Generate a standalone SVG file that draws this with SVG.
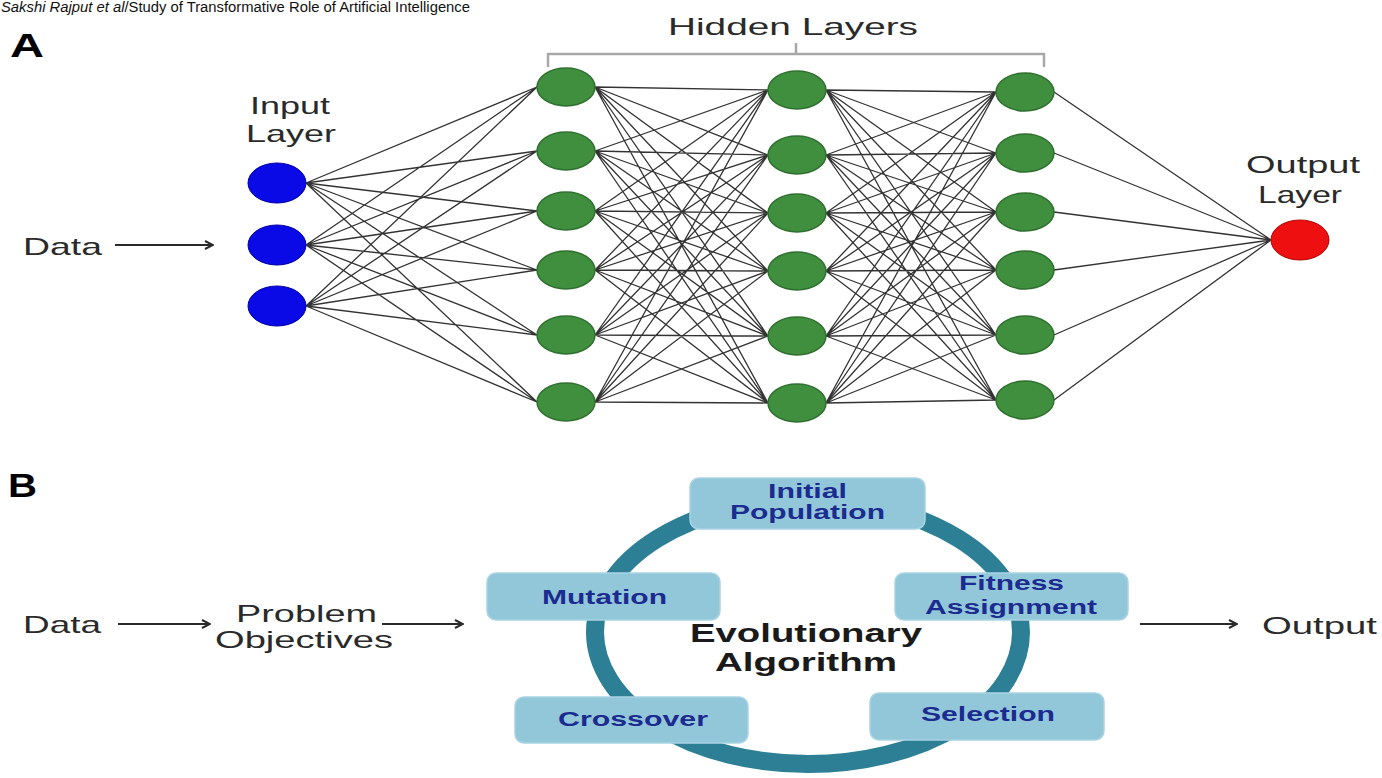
<svg xmlns="http://www.w3.org/2000/svg" width="1382" height="778" viewBox="0 0 1382 778">
<style>
.lbl{font-family:"Liberation Sans",Arial,sans-serif;fill:#2a2a2a;font-size:24px}
.hid{fill:#3f8f3f;stroke:#2f6f2f;stroke-width:1.5}
.inp{fill:#0a0ae6;stroke:#0000a0;stroke-width:1}
.out{fill:#ee1010;stroke:#b00000;stroke-width:1}
.net{fill:none;stroke:#333333;stroke-width:1.3}
.box{fill:#92c7da;stroke:#a9d4e3;stroke-width:1.5}
.bt{font-family:"Liberation Sans",Arial,sans-serif;font-weight:bold;fill:#1c2b8f;font-size:20px}
.ea{font-family:"Liberation Sans",Arial,sans-serif;font-weight:bold;fill:#1a1a1a;font-size:26px}
.arr{fill:none;stroke:#2a2a2a;stroke-width:2;marker-end:url(#ah)}
</style>
<defs>
<marker id="ah" viewBox="0 0 10 10" refX="9" refY="5" markerWidth="10" markerHeight="10" markerUnits="userSpaceOnUse" orient="auto">
<path d="M1,1 L9,5 L1,9" fill="none" stroke="#2a2a2a" stroke-width="2"/>
</marker>
</defs>
<rect width="1382" height="778" fill="#ffffff"/>
<text x="1" y="12" font-family="'Liberation Sans',Arial,sans-serif" font-size="14" fill="#111" textLength="469" lengthAdjust="spacingAndGlyphs"><tspan font-style="italic">Sakshi Rajput et al</tspan>/Study of Transformative Role of Artificial Intelligence</text>
<text x="10" y="57" font-family="'Liberation Sans',Arial,sans-serif" font-weight="bold" font-size="33" fill="#000" textLength="34" lengthAdjust="spacingAndGlyphs">A</text>
<text x="8" y="497" font-family="'Liberation Sans',Arial,sans-serif" font-weight="bold" font-size="34" fill="#000" textLength="29" lengthAdjust="spacingAndGlyphs">B</text>

<g id="connectors">
<path class="net" d="M306 183L537 87M306 183L537 151M306 183L537 211M306 183L537 270M306 183L537 335M306 183L537 402
M306 245L537 87M306 245L537 151M306 245L537 211M306 245L537 270M306 245L537 335M306 245L537 402
M306 306L537 87M306 306L537 151M306 306L537 211M306 306L537 270M306 306L537 335M306 306L537 402"/>
<path class="net" d="M595 87L768 90M595 87L768 155M595 87L768 213M595 87L768 271M595 87L768 336M595 87L768 403
M595 151L768 90M595 151L768 155M595 151L768 213M595 151L768 271M595 151L768 336M595 151L768 403
M595 211L768 90M595 211L768 155M595 211L768 213M595 211L768 271M595 211L768 336M595 211L768 403
M595 270L768 90M595 270L768 155M595 270L768 213M595 270L768 271M595 270L768 336M595 270L768 403
M595 335L768 90M595 335L768 155M595 335L768 213M595 335L768 271M595 335L768 336M595 335L768 403
M595 402L768 90M595 402L768 155M595 402L768 213M595 402L768 271M595 402L768 336M595 402L768 403"/>
<path class="net" d="M826 90L996 92M826 90L996 153M826 90L996 212M826 90L996 270M826 90L996 335M826 90L996 400
M826 155L996 92M826 155L996 153M826 155L996 212M826 155L996 270M826 155L996 335M826 155L996 400
M826 213L996 92M826 213L996 153M826 213L996 212M826 213L996 270M826 213L996 335M826 213L996 400
M826 271L996 92M826 271L996 153M826 271L996 212M826 271L996 270M826 271L996 335M826 271L996 400
M826 336L996 92M826 336L996 153M826 336L996 212M826 336L996 270M826 336L996 335M826 336L996 400
M826 403L996 92M826 403L996 153M826 403L996 212M826 403L996 270M826 403L996 335M826 403L996 400"/>
<path class="net" d="M1054 92L1271 240M1054 153L1271 240M1054 212L1271 240M1054 270L1271 240M1054 335L1271 240M1054 400L1271 240"/>
<path class="arr" d="M115 245H213"/>
<path class="arr" d="M118 624H210"/>
<path class="arr" d="M382 624H463"/>
<path class="arr" d="M1140 624H1237"/>
</g>

<g id="bracket">
<path d="M548 67V54H1044V67M796 54V43" fill="none" stroke="#a8a8a8" stroke-width="2.5"/>
<text class="lbl" x="668" y="35" font-size="28" textLength="250" lengthAdjust="spacingAndGlyphs">Hidden Layers</text>
</g>

<g id="data-a"><text class="lbl" x="23" y="255" textLength="79" lengthAdjust="spacingAndGlyphs">Data</text></g>
<g id="input-label">
<text class="lbl" x="250" y="114" textLength="80" lengthAdjust="spacingAndGlyphs">Input</text>
<text class="lbl" x="246" y="142" textLength="90" lengthAdjust="spacingAndGlyphs">Layer</text>
</g>
<g id="output-label">
<text class="lbl" x="1246" y="173" textLength="114" lengthAdjust="spacingAndGlyphs">Output</text>
<text class="lbl" x="1258" y="203" textLength="84" lengthAdjust="spacingAndGlyphs">Layer</text>
</g>

<g id="in1"><ellipse class="inp" cx="277" cy="183" rx="29" ry="20"/></g>
<g id="in2"><ellipse class="inp" cx="277" cy="245" rx="29" ry="20"/></g>
<g id="in3"><ellipse class="inp" cx="277" cy="306" rx="29" ry="20"/></g>

<g id="h1-1"><ellipse class="hid" cx="566" cy="87" rx="29" ry="19"/></g>
<g id="h1-2"><ellipse class="hid" cx="566" cy="151" rx="29" ry="19"/></g>
<g id="h1-3"><ellipse class="hid" cx="566" cy="211" rx="29" ry="19"/></g>
<g id="h1-4"><ellipse class="hid" cx="566" cy="270" rx="29" ry="19"/></g>
<g id="h1-5"><ellipse class="hid" cx="566" cy="335" rx="29" ry="19"/></g>
<g id="h1-6"><ellipse class="hid" cx="566" cy="402" rx="29" ry="19"/></g>

<g id="h2-1"><ellipse class="hid" cx="797" cy="90" rx="29" ry="19"/></g>
<g id="h2-2"><ellipse class="hid" cx="797" cy="155" rx="29" ry="19"/></g>
<g id="h2-3"><ellipse class="hid" cx="797" cy="213" rx="29" ry="19"/></g>
<g id="h2-4"><ellipse class="hid" cx="797" cy="271" rx="29" ry="19"/></g>
<g id="h2-5"><ellipse class="hid" cx="797" cy="336" rx="29" ry="19"/></g>
<g id="h2-6"><ellipse class="hid" cx="797" cy="403" rx="29" ry="19"/></g>

<g id="h3-1"><ellipse class="hid" cx="1025" cy="92" rx="29" ry="19"/></g>
<g id="h3-2"><ellipse class="hid" cx="1025" cy="153" rx="29" ry="19"/></g>
<g id="h3-3"><ellipse class="hid" cx="1025" cy="212" rx="29" ry="19"/></g>
<g id="h3-4"><ellipse class="hid" cx="1025" cy="270" rx="29" ry="19"/></g>
<g id="h3-5"><ellipse class="hid" cx="1025" cy="335" rx="29" ry="19"/></g>
<g id="h3-6"><ellipse class="hid" cx="1025" cy="400" rx="29" ry="19"/></g>

<g id="out"><ellipse class="out" cx="1300" cy="240" rx="29" ry="20"/></g>

<!-- Part B -->
<g id="ring"><ellipse cx="808" cy="632" rx="213" ry="132" fill="none" stroke="#2c7f94" stroke-width="18"/></g>
<g id="ea-label">
<text class="ea" x="690" y="642" textLength="232" lengthAdjust="spacingAndGlyphs">Evolutionary</text>
<text class="ea" x="715" y="671" textLength="182" lengthAdjust="spacingAndGlyphs">Algorithm</text>
</g>
<g id="init"><rect class="box" x="690" y="478" width="235" height="51" rx="9"/>
<text class="bt" x="768" y="498" textLength="79" lengthAdjust="spacingAndGlyphs">Initial</text>
<text class="bt" x="730" y="519" textLength="155" lengthAdjust="spacingAndGlyphs">Population</text></g>
<g id="mutation"><rect class="box" x="487" y="573" width="233" height="47" rx="9"/>
<text class="bt" x="542" y="604" textLength="125" lengthAdjust="spacingAndGlyphs">Mutation</text></g>
<g id="fitness"><rect class="box" x="895" y="573" width="233" height="47" rx="9"/>
<text class="bt" x="959" y="590" textLength="105" lengthAdjust="spacingAndGlyphs">Fitness</text>
<text class="bt" x="925" y="614" textLength="172" lengthAdjust="spacingAndGlyphs">Assignment</text></g>
<g id="crossover"><rect class="box" x="515" y="697" width="233" height="46" rx="9"/>
<text class="bt" x="558" y="726" textLength="150" lengthAdjust="spacingAndGlyphs">Crossover</text></g>
<g id="selection"><rect class="box" x="870" y="693" width="234" height="47" rx="9"/>
<text class="bt" x="921" y="721" textLength="134" lengthAdjust="spacingAndGlyphs">Selection</text></g>

<g id="data-b"><text class="lbl" x="23" y="633" font-size="26" textLength="78" lengthAdjust="spacingAndGlyphs">Data</text></g>
<g id="problem">
<text class="lbl" x="236" y="622" font-size="26" textLength="141" lengthAdjust="spacingAndGlyphs">Problem</text>
<text class="lbl" x="215" y="648" font-size="26" textLength="178" lengthAdjust="spacingAndGlyphs">Objectives</text>
</g>
<g id="output-b"><text class="lbl" x="1262" y="634" font-size="26" textLength="115" lengthAdjust="spacingAndGlyphs">Output</text></g>
</svg>
